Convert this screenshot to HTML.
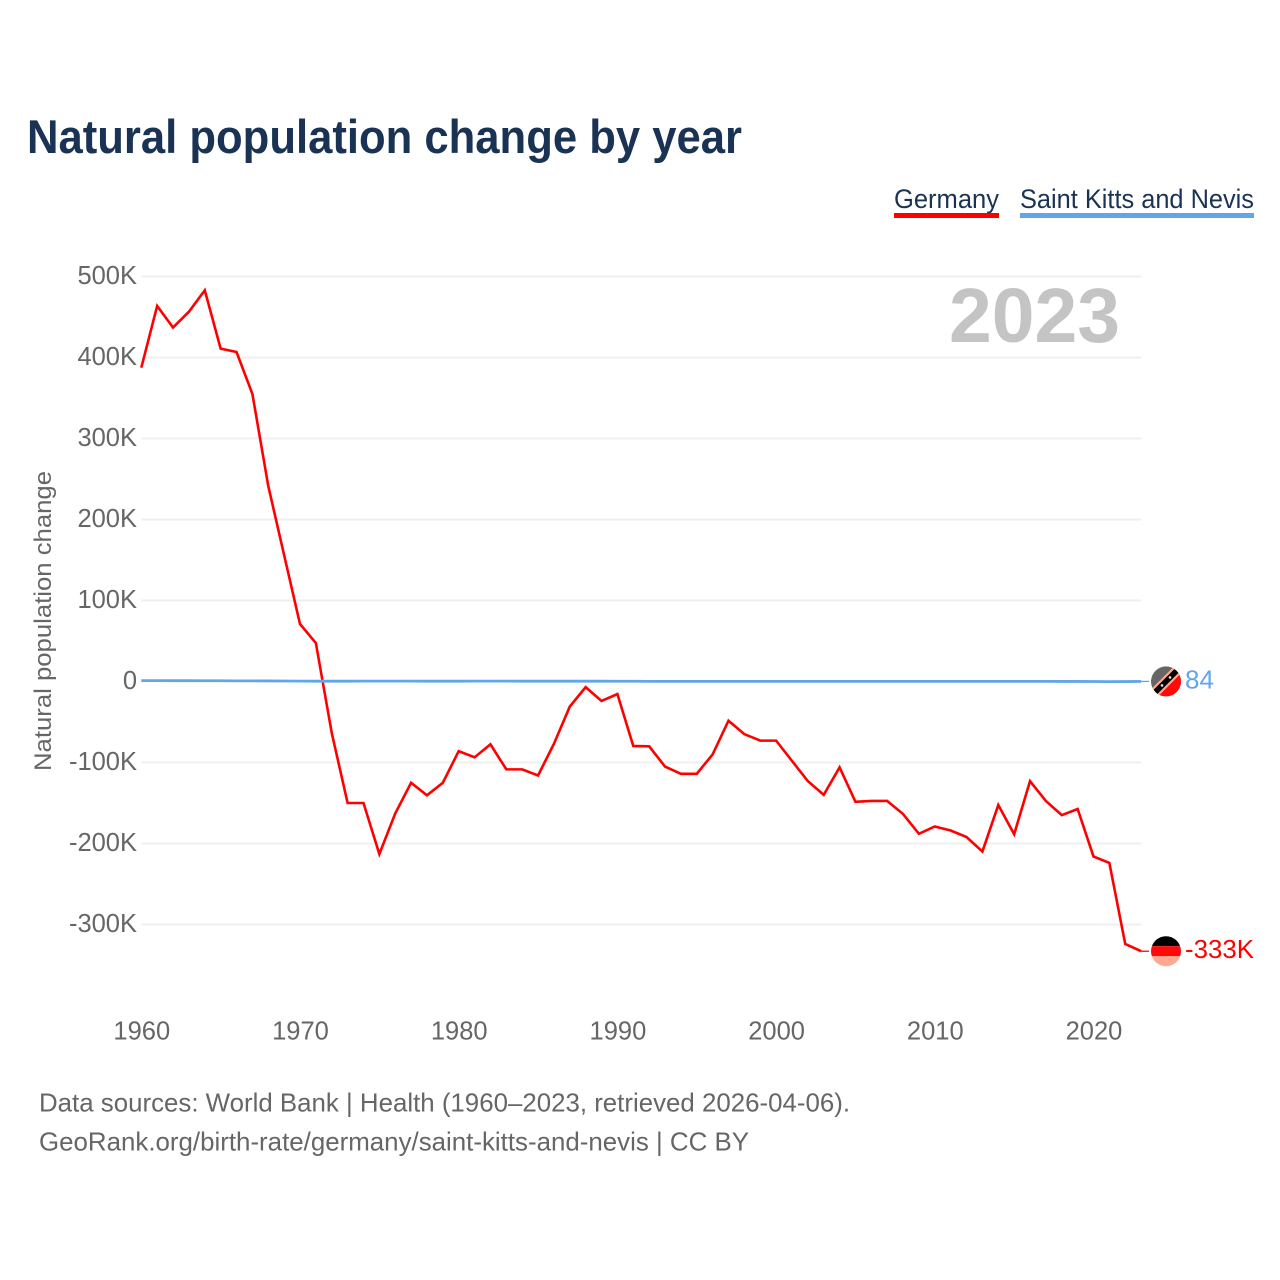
<!DOCTYPE html>
<html lang="en">
<head>
<meta charset="utf-8">
<title>Natural population change by year</title>
<style>
html,body{margin:0;padding:0;background:#fff;}
svg{display:block;}
text{font-family:"Liberation Sans",sans-serif;}
</style>
</head>
<body>
<svg id="chart" width="1280" height="1280" viewBox="0 0 1280 1280" xmlns="http://www.w3.org/2000/svg">
  <defs>
    <clipPath id="flag-clip"><circle cx="0" cy="0" r="15"></circle></clipPath>
  </defs>
  <rect x="0" y="0" width="1280" height="1280" fill="#ffffff"></rect>
  <text x="27" y="153" font-size="47" font-weight="700" fill="#1a3354" textLength="715" lengthAdjust="spacingAndGlyphs">Natural population change by year</text>

  <g>
    <text x="894" y="208" font-size="27" fill="#1a3354" textLength="105" lengthAdjust="spacingAndGlyphs">Germany</text>
    <rect x="894" y="213" width="105" height="5" fill="#ff0000"></rect>
  </g>
  <g>
    <text x="1020" y="208" font-size="27" fill="#1a3354" textLength="234" lengthAdjust="spacingAndGlyphs">Saint Kitts and Nevis</text>
    <rect x="1020" y="213" width="234" height="5" fill="#63a5ea"></rect>
  </g>

  <text transform="translate(51 621) rotate(-90)" text-anchor="middle" font-size="24.5" fill="#666666" textLength="300" lengthAdjust="spacingAndGlyphs">Natural population change</text>

  <g id="grid"></g>
  <g id="y-ticks"></g>
  <g id="x-ticks"></g>

  <text x="949" y="342" font-size="77" font-weight="700" fill="#c4c4c4" textLength="171" lengthAdjust="spacingAndGlyphs">2023</text>

  <g id="series"></g>

  <g id="flag-kn">
    <g clip-path="url(#flag-clip)">
      <rect x="-16" y="-16" width="32" height="32" fill="#666666"></rect>
      <polygon points="-16,16 16,16 16,-16" fill="#ff0a0a"></polygon>
      <polygon points="-16,9 9,-16 16,-16 16,-9 -9,16 -16,16" fill="#ffa98f"></polygon>
      <polygon points="-16,12 12,-16 16,-12 -12,16" fill="#000000"></polygon>
      <circle cx="4" cy="-4" r="1.3" fill="#e8e8e8"></circle>
      <circle cx="-4" cy="4" r="1.3" fill="#e8e8e8"></circle>
    </g>
  </g>
  <g id="flag-de">
    <g clip-path="url(#flag-clip)">
      <rect x="-16" y="-16" width="32" height="11" fill="#000000"></rect>
      <rect x="-16" y="-5" width="32" height="10" fill="#ff0a0a"></rect>
      <rect x="-16" y="5" width="32" height="11" fill="#ffa98f"></rect>
    </g>
  </g>
  <text id="label-kn" x="1185" font-size="26" fill="#63a5ea"></text>
  <text id="label-de" x="1185" font-size="26" fill="#ff0000" textLength="69" lengthAdjust="spacingAndGlyphs"></text>

  <text x="39" y="1111.5" font-size="26" fill="#666666" textLength="811" lengthAdjust="spacingAndGlyphs">Data sources: World Bank | Health (1960–2023, retrieved 2026-04-06).</text>
  <text x="39" y="1150.5" font-size="26" fill="#666666" textLength="710" lengthAdjust="spacingAndGlyphs">GeoRank.org/birth-rate/germany/saint-kitts-and-nevis | CC BY</text>
</svg>
<script>
const startYear = 1960;
const xTickYears = [1960, 1970, 1980, 1990, 2000, 2010, 2020];
const yTickValues = [500, 400, 300, 200, 100, 0, -100, -200, -300];
const yTickLabels = ['500K', '400K', '300K', '200K', '100K', '0', '-100K', '-200K', '-300K'];
// Natural population change in thousands, 1960-2023
const germany = [387.4, 463.6, 437, 456.5, 483, 411, 406.8, 355, 241.4, 156, 71, 47.5,
  -63.5, -150, -150, -213, -163, -125, -140.5, -125, -86, -93.6, -77.6, -108.5, -108.5,
  -116, -77, -31, -7, -24, -15.5, -79.6, -80, -105, -114, -114, -90, -48.4, -65, -73,
  -73, -98, -123, -140, -106, -148.5, -147.5, -147.5, -163.6, -188, -179, -184, -192,
  -210, -152.5, -188.6, -123, -147.5, -165, -157.4, -216, -224, -324, -333];
const saintKitts = [1.1, 1.1, 1.0, 1.0, 0.9, 0.9, 0.8, 0.8, 0.7, 0.6, 0.5, 0.4, 0.4, 0.4,
  0.5, 0.5, 0.5, 0.5, 0.4, 0.4, 0.4, 0.5, 0.5, 0.5, 0.4, 0.4, 0.4, 0.4, 0.4, 0.4, 0.3,
  0.3, 0.2, 0.2, 0.2, 0.2, 0.2, 0.2, 0.2, 0.2, 0.2, 0.2, 0.2, 0.2, 0.2, 0.2, 0.2, 0.2,
  0.2, 0.2, 0.2, 0.2, 0.2, 0.2, 0.2, 0.2, 0.2, 0.2, 0.1, 0.1, 0, -0.2, -0.1, 0.084];
const germanyEndLabel = '-333K';
const saintKittsEndLabel = '84';

const NS = 'http://www.w3.org/2000/svg';
function xScale(year) { return 141.3 + (year - startYear) * 15.87; }
function yScale(value) { return 681.5 - value * 0.81; }
function pointsFor(values) {
  return values.map(function (v, i) { return xScale(startYear + i).toFixed(2) + ',' + yScale(v).toFixed(2); }).join(' ');
}
const lastYear = startYear + germany.length - 1;
const stubEnd = xScale(lastYear) + 8;

yTickValues.forEach(function (value, i) {
  const y = yScale(value);
  if (value !== 0) {
    const line = document.createElementNS(NS, 'line');
    
    
    line.setAttribute('x1', xScale(startYear));
    line.setAttribute('x2', xScale(lastYear));
    line.setAttribute('y1', y);
    line.setAttribute('y2', y);
    line.setAttribute('stroke', '#efefef');
    line.setAttribute('stroke-width', '2');
    document.getElementById('grid').appendChild(line);
  }
  const label = document.createElementNS(NS, 'text');
  
  
  label.setAttribute('x', 137);
  label.setAttribute('y', y + 7.5);
  label.setAttribute('text-anchor', 'end');
  label.setAttribute('font-size', '25.5');
  label.setAttribute('fill', '#666666');
  label.textContent = yTickLabels[i];
  document.getElementById('y-ticks').appendChild(label);
});

xTickYears.forEach(function (year) {
  const label = document.createElementNS(NS, 'text');
  
  
  label.setAttribute('x', xScale(year) + 0.5);
  label.setAttribute('y', 1039.5);
  label.setAttribute('text-anchor', 'middle');
  label.setAttribute('font-size', '25.5');
  label.setAttribute('fill', '#666666');
  label.textContent = String(year);
  document.getElementById('x-ticks').appendChild(label);
});

function drawSeries(values, color, width, lineName, stubName) {
  const poly = document.createElementNS(NS, 'polyline');
  
  
  poly.setAttribute('points', pointsFor(values));
  poly.setAttribute('fill', 'none');
  poly.setAttribute('stroke', color);
  poly.setAttribute('stroke-width', width);
  poly.setAttribute('stroke-linejoin', 'miter');
  document.getElementById('series').appendChild(poly);
  const stub = document.createElementNS(NS, 'line');
  
  
  const endY = yScale(values[values.length - 1]);
  stub.setAttribute('x1', xScale(lastYear));
  stub.setAttribute('x2', stubEnd);
  stub.setAttribute('y1', endY);
  stub.setAttribute('y2', endY);
  stub.setAttribute('stroke', color);
  stub.setAttribute('stroke-width', '1.3');
  document.getElementById('series').appendChild(stub);
}
drawSeries(germany, '#ff0000', '2.6', 'line-germany', 'connector-germany');
drawSeries(saintKitts, '#63a5ea', '2.8', 'line-saint-kitts-and-nevis', 'connector-saint-kitts-and-nevis');

const yKn = yScale(saintKitts[saintKitts.length - 1]);
const yDe = yScale(germany[germany.length - 1]);
document.getElementById('flag-kn').setAttribute('transform', 'translate(1166 ' + yKn + ')');
document.getElementById('flag-de').setAttribute('transform', 'translate(1166 ' + yDe + ')');
const labelKn = document.getElementById('label-kn');
labelKn.setAttribute('y', yKn + 7);
labelKn.textContent = saintKittsEndLabel;
const labelDe = document.getElementById('label-de');
labelDe.setAttribute('y', yDe + 7);
labelDe.textContent = germanyEndLabel;
</script>
</body>
</html>
